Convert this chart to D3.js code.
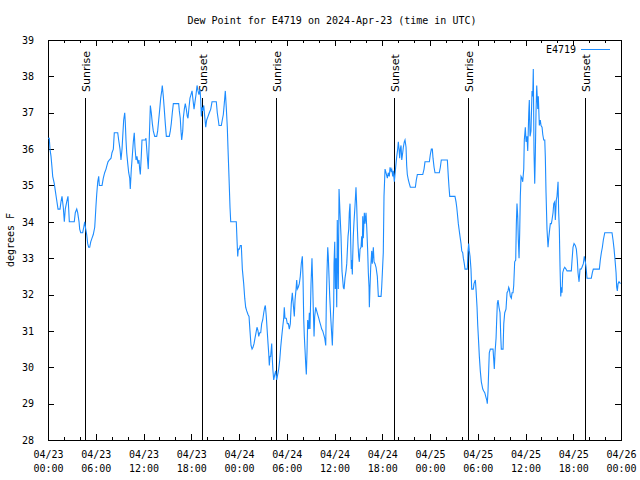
<!DOCTYPE html>
<html><head><meta charset="utf-8">
<script src="https://cdn.jsdelivr.net/npm/d3@7"></script>
<style>
body{margin:0;background:#fff}
svg{display:block}
text{font-family:"DejaVu Sans Mono",monospace;font-size:10px;fill:#000}
</style>
</head><body><svg id="c" width="640" height="480"></svg>
<script>
const chartTitle = "Dew Point for E4719 on 2024-Apr-23 (time in UTC)";
const seriesName = "E4719";
const yTitle = "degrees F";
// hours since 2024-04-23 00:00 UTC
const hours = [0.00,0.16,0.25,0.38,0.50,0.59,0.79,0.92,1.09,1.26,1.51,1.63,1.76,1.92,2.05,2.17,2.35,2.51,2.60,2.68,3.30,3.43,3.61,3.73,3.90,3.98,4.11,4.36,4.49,4.61,4.74,4.86,4.99,5.11,5.24,5.37,5.53,5.69,5.87,5.94,6.03,6.12,6.25,6.37,6.45,6.79,6.95,7.12,7.29,7.41,7.54,7.70,7.92,8.04,8.21,8.33,8.76,8.88,9.05,9.17,9.30,9.39,9.51,9.64,9.71,9.80,9.89,10.02,10.14,10.27,10.34,10.47,10.59,10.72,10.84,10.93,11.06,11.18,11.31,11.43,11.52,11.60,11.72,11.81,12.23,12.31,12.44,12.53,12.60,12.69,12.78,12.86,12.98,13.11,13.23,13.41,13.66,13.78,13.91,14.04,14.16,14.29,14.36,14.49,14.61,14.74,14.87,15.24,15.37,15.49,15.62,15.75,16.42,16.50,16.62,16.71,16.80,16.93,17.00,17.13,17.25,17.38,17.50,17.59,17.72,17.84,17.97,18.10,18.22,18.35,18.47,18.60,18.73,18.85,18.97,19.10,19.19,19.27,19.35,19.44,19.57,19.69,19.82,19.94,20.11,20.27,20.45,20.61,21.15,21.27,21.40,21.49,21.78,21.90,22.03,22.15,22.28,22.40,22.53,22.62,22.74,22.87,22.96,23.66,23.75,23.84,23.91,24.04,24.16,24.29,24.42,24.59,24.72,24.84,24.97,25.13,25.26,25.38,25.51,25.64,25.76,25.89,26.01,26.14,26.26,26.39,26.48,26.60,26.73,26.85,26.98,27.11,27.23,27.31,27.43,27.56,27.65,27.73,27.81,27.90,27.98,28.11,28.19,28.27,28.36,28.49,28.61,28.74,28.86,28.99,29.12,29.24,29.37,29.49,29.62,29.69,29.78,29.94,30.07,30.20,30.32,30.45,30.57,30.70,30.83,30.95,31.04,31.17,31.25,31.33,31.45,31.58,31.70,31.83,31.96,32.04,32.13,32.21,32.29,32.38,32.46,32.55,32.63,32.76,32.84,32.92,33.05,33.17,33.26,33.34,33.43,33.51,33.64,33.76,33.89,34.02,34.14,34.27,34.39,34.52,34.65,34.77,34.90,34.97,35.06,35.15,35.22,35.31,35.40,35.52,35.65,35.73,35.81,35.90,35.94,36.03,36.10,36.19,36.28,36.35,36.48,36.57,36.69,36.82,36.94,37.11,37.20,37.32,37.45,37.54,37.70,37.79,37.86,37.95,38.04,38.11,38.16,38.24,38.29,38.36,38.45,38.58,38.70,38.79,38.87,38.95,39.04,39.12,39.21,39.33,39.42,39.50,39.55,39.62,39.75,39.83,39.96,40.05,40.17,40.25,40.34,40.38,40.46,40.55,40.68,40.75,40.88,40.97,41.09,41.22,41.38,41.51,41.85,41.93,42.13,42.22,42.35,42.47,42.64,42.76,42.89,42.98,43.10,43.19,43.32,43.39,43.52,43.60,43.73,43.82,43.94,44.02,44.11,44.19,44.27,44.36,44.45,44.57,44.65,44.77,44.86,44.99,45.07,45.15,45.28,45.40,45.53,46.16,46.28,46.41,47.09,47.25,47.37,47.92,48.04,48.17,48.29,48.38,48.51,48.63,49.17,49.30,49.42,50.18,50.30,50.39,50.48,51.14,51.27,51.36,51.43,51.56,51.65,51.77,51.90,51.99,52.11,52.19,52.31,52.40,52.69,52.78,52.86,52.94,53.03,53.15,53.24,53.44,53.53,53.70,53.78,53.91,54.00,54.12,54.20,54.32,54.45,54.63,54.75,54.88,55.00,55.13,55.20,55.29,55.38,55.45,55.58,55.92,56.01,56.08,56.17,56.30,56.38,56.46,56.55,56.67,56.80,56.89,56.96,57.18,57.27,57.39,57.55,57.68,57.80,57.89,57.97,58.09,58.22,58.31,58.43,58.52,58.64,58.77,58.85,58.93,59.02,59.10,59.19,59.27,59.35,59.44,59.56,59.65,59.78,59.85,59.98,60.07,60.19,60.28,60.41,60.48,60.57,60.69,60.82,60.91,60.98,61.07,61.16,61.23,61.32,61.41,61.54,61.61,61.74,61.86,61.95,62.08,62.17,62.29,62.42,62.49,62.58,62.70,62.83,62.92,63.04,63.12,63.25,63.33,63.46,63.55,63.67,63.75,63.87,63.96,64.09,64.17,64.25,64.34,64.43,64.50,64.59,64.68,64.80,64.93,65.09,65.22,65.76,65.85,65.97,66.10,66.26,66.39,66.51,66.60,66.73,66.85,66.98,67.10,67.27,67.39,67.52,67.61,67.73,68.27,68.40,68.52,69.28,69.40,69.53,69.66,69.78,69.96,70.87,71.00,71.13,71.25,71.38,71.46,71.54,71.63,71.75,71.94];
const dewF = [36.3,36.3,36.0,35.8,35.5,35.25,35.05,34.85,34.6,34.35,34.35,34.55,34.7,34.4,34.0,34.35,34.55,34.7,34.35,34.0,34.0,34.25,34.35,34.25,34.0,33.8,33.7,33.7,33.85,34.0,33.8,33.65,33.4,33.3,33.3,33.45,33.55,33.65,33.85,34.1,34.45,34.75,35.1,35.25,35.0,35.0,35.2,35.35,35.45,35.55,35.65,35.7,35.75,35.9,36.0,36.45,36.45,36.25,36.0,35.7,36.0,36.35,36.8,37.0,36.75,36.25,35.9,35.6,35.35,35.2,34.9,35.45,35.8,36.2,36.45,36.05,35.7,35.8,35.6,35.7,35.45,35.3,35.8,36.25,36.25,36.3,35.9,35.65,35.45,36.05,36.65,37.2,37.0,36.7,36.5,36.35,36.35,36.5,36.8,37.1,37.4,37.6,37.75,37.45,37.1,36.7,36.35,36.35,36.5,36.7,37.0,37.25,37.25,37.05,36.85,36.5,36.25,36.5,36.85,37.1,37.25,37.1,36.9,36.85,37.15,37.4,37.5,37.6,37.35,37.1,37.3,37.5,37.75,37.6,37.5,37.65,37.35,36.9,37.15,37.05,37.2,36.9,36.6,36.8,36.9,37.0,37.1,37.3,37.3,37.0,36.8,36.65,36.65,36.8,36.95,37.25,37.6,37.15,36.6,36.0,35.25,34.4,34.0,34.0,33.5,33.05,33.25,33.25,33.35,33.35,32.7,32.3,31.9,31.65,31.55,31.45,31.4,31.0,30.6,30.5,30.55,30.65,30.8,30.95,31.1,31.0,30.85,30.95,30.95,31.2,31.3,31.5,31.65,31.7,31.4,30.95,30.65,30.4,30.05,30.3,30.3,30.65,30.2,29.9,29.65,29.8,29.9,29.65,29.8,29.95,30.2,30.55,30.85,31.1,31.35,31.65,31.35,31.35,31.2,31.2,31.05,31.2,31.75,32.05,31.7,31.4,31.85,32.15,32.4,32.15,32.2,32.3,32.5,32.85,33.05,32.5,31.35,30.85,30.5,30.1,29.8,30.45,31.3,31.05,31.5,31.05,32.3,33.0,32.3,31.55,30.85,31.4,31.65,31.55,31.45,31.35,31.25,31.15,31.05,31.0,30.9,30.8,30.6,31.75,32.65,33.3,33.05,32.5,31.95,31.4,30.9,30.6,31.2,31.7,32.85,33.45,32.15,33.0,31.65,34.05,32.15,34.9,34.25,33.6,32.65,32.2,32.15,32.45,32.65,32.85,33.6,33.8,34.25,34.5,33.4,32.7,32.95,32.55,33.05,33.6,34.0,34.45,34.95,34.45,33.85,33.4,33.05,32.9,33.25,33.3,33.6,33.3,34.15,33.55,34.25,33.95,34.25,33.85,33.2,32.6,32.2,31.65,32.2,32.75,33.2,32.85,33.3,32.9,32.85,32.75,32.5,31.95,31.95,32.2,33.15,34.7,35.45,35.35,35.2,35.35,35.25,35.5,35.4,35.45,35.25,35.4,35.1,35.3,35.6,35.8,36.0,36.2,36.0,35.75,36.0,36.1,35.7,35.9,36.05,36.2,36.25,36.05,35.55,35.3,35.15,35.05,34.95,34.95,35.15,35.3,35.3,35.45,35.65,35.65,35.85,36.0,36.0,35.75,35.5,35.35,35.35,35.5,35.7,35.7,35.25,34.95,34.7,34.7,34.55,34.4,34.25,33.95,33.8,33.6,33.4,33.2,33.15,33.0,32.85,32.7,32.7,33.2,33.4,33.2,33.05,32.7,32.15,32.15,32.3,32.4,32.15,31.65,31.15,30.65,30.3,29.9,29.6,29.4,29.35,29.3,29.2,29.1,29.0,29.35,29.95,30.4,30.5,30.5,30.2,29.95,30.4,30.8,31.3,31.75,31.85,31.65,31.5,30.85,30.5,30.5,31.2,31.5,31.6,32.05,32.1,32.2,32.15,31.95,31.9,32.05,32.05,32.25,32.9,32.95,33.95,34.5,34.15,33.5,33.0,33.7,34.7,35.25,35.2,35.1,35.45,36.25,36.6,36.2,36.35,35.95,37.0,37.35,36.35,36.5,37.6,37.45,38.2,35.9,35.05,35.8,37.0,37.75,37.1,37.45,36.65,36.8,36.65,36.6,36.4,36.25,36.25,35.8,34.8,33.8,33.3,33.55,33.8,33.95,33.95,34.05,34.25,34.5,34.55,34.05,34.6,34.7,35.1,34.25,33.8,32.75,31.95,32.2,32.05,32.6,32.7,32.75,32.7,32.65,32.65,32.95,33.3,33.4,33.35,33.25,32.95,32.6,32.35,32.7,32.7,32.75,32.85,33.05,32.9,32.75,32.45,32.45,32.6,32.7,32.7,32.95,33.15,33.3,33.5,33.7,33.7,33.5,33.25,32.95,32.6,32.2,32.1,32.3,32.35,32.3];
const sunriseHours = [4.69, 28.69, 52.78];
const sunsetHours = [19.39, 43.52, 67.52];
const yTickValues = [28,29,30,31,32,33,34,35,36,37,38,39];
const majorTickHours = [0,6,12,18,24,30,36,42,48,54,60,66,72];
const minorTickHours = d3.range(0, 73, 2);

const H = 3600e3;
const t0 = Date.UTC(2024, 3, 23, 0, 0);
const toDate = h => new Date(t0 + h * H);
const data = hours.map((h, i) => ({t: toDate(h), v: dewF[i]}));

const L = 48, R = 621, T = 40, B = 440;
const svg = d3.select("#c");
const x = d3.scaleUtc().domain([toDate(0), toDate(72)]).range([L, R]);
const y = d3.scaleLinear().domain([28, 39]).range([B, T]);

// title
svg.append("text").attr("x", 332).attr("y", 24).attr("text-anchor", "middle").text(chartTitle);

// axes
const fmtD = d3.utcFormat("%m/%d"), fmtT = d3.utcFormat("%H:%M");
function clean(g){ g.select(".domain").remove(); g.selectAll("line").attr("stroke","#000").attr("shape-rendering","crispEdges"); }
const xb = svg.append("g").attr("transform", `translate(0,${B})`)
  .call(d3.axisBottom(x).tickValues(majorTickHours.map(toDate)).tickSize(-6).tickPadding(0).tickFormat(d => ""))
  .call(clean);
xb.selectAll(".tick text").remove();
xb.selectAll(".tick").append("text").attr("text-anchor","middle").attr("font-family","DejaVu Sans Mono").attr("font-size",10)
  .each(function(d){
    const t = d3.select(this);
    t.append("tspan").attr("x",0).attr("y",18).text(fmtD(d));
    t.append("tspan").attr("x",0).attr("y",32).text(fmtT(d));
  });
svg.append("g").attr("transform", `translate(0,${B})`)
  .call(d3.axisBottom(x).tickValues(minorTickHours.map(toDate)).tickSize(-3).tickFormat(""))
  .call(clean);
svg.append("g").attr("transform", `translate(0,${T})`)
  .call(d3.axisTop(x).tickValues(majorTickHours.map(toDate)).tickSize(-6).tickFormat(""))
  .call(clean);
svg.append("g").attr("transform", `translate(0,${T})`)
  .call(d3.axisTop(x).tickValues(minorTickHours.map(toDate)).tickSize(-3).tickFormat(""))
  .call(clean);
const yl = svg.append("g").attr("transform", `translate(${L},0)`)
  .call(d3.axisLeft(y).tickValues(yTickValues).tickSize(-6).tickPadding(14).tickFormat(d3.format("d")))
  .call(clean);
yl.selectAll("text").attr("font-family","DejaVu Sans Mono").attr("font-size",10).attr("fill","#000");
svg.append("g").attr("transform", `translate(${R},0)`)
  .call(d3.axisRight(y).tickValues(yTickValues).tickSize(-6).tickFormat(""))
  .call(clean);

// frame
svg.append("rect").attr("x", L + 0.5).attr("y", T + 0.5).attr("width", R - L).attr("height", B - T)
  .attr("fill","none").attr("stroke","#000");

// y title
svg.append("text").attr("transform", "translate(14,240) rotate(-90)").attr("text-anchor","middle").text(yTitle);

// sun events
const events = sunriseHours.map(h => ({h, label:"Sunrise"})).concat(sunsetHours.map(h => ({h, label:"Sunset"})));
events.forEach(e => {
  const xx = Math.round(x(toDate(e.h))) + 0.5;
  svg.append("line").attr("x1", xx).attr("x2", xx).attr("y1", 98).attr("y2", B).attr("stroke","#000");
  svg.append("text").attr("transform", `translate(${xx + 4.5},92) rotate(-90)`).attr("text-anchor","start")
    .style("font-family","'DejaVu Sans',sans-serif").style("font-size","11px").text(e.label);
});

// series
svg.append("path").datum(data)
  .attr("d", d3.line().x(d => x(d.t)).y(d => y(d.v)))
  .attr("fill","none").attr("stroke","#1c8cff").attr("stroke-width",1.1);

// legend
svg.append("text").attr("x", 576).attr("y", 53).attr("text-anchor","end").text(seriesName);
svg.append("line").attr("x1", 581).attr("x2", 610).attr("y1", 49.5).attr("y2", 49.5).attr("stroke","#1c8cff");
</script>
</body></html>
